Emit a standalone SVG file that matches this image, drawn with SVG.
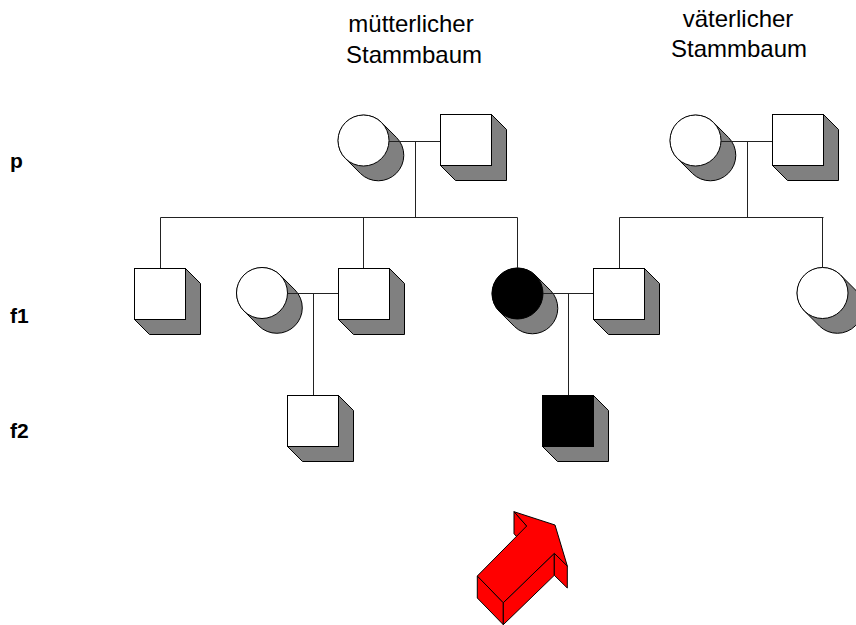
<svg xmlns="http://www.w3.org/2000/svg" width="856" height="625" viewBox="0 0 856 625">
  <style>
    .title { font-family: "Liberation Sans", Arial, sans-serif; font-size: 24px; fill: #000; text-anchor: middle; }
    .gen { font-family: "Liberation Sans", Arial, sans-serif; font-size: 21px; font-weight: bold; fill: #000; }
    .edge { stroke: #222; stroke-width: 1; fill: none; }
    .shade { fill: #808080; stroke: #000; stroke-width: 1; }
    .face { stroke: #000; stroke-width: 1; }
    .arrow path { fill: #ff0000; stroke: #000; stroke-width: 1; stroke-linejoin: round; }
  </style>
  <defs>
    <!-- female: extruded disc, r = 25.5, depth 15 -->
    <g id="female">
      <path class="shade" d="M18.03,-18.03 L33.03,-3.03 A25.5,25.5 0 0 1 -3.03,33.03 L-18.03,18.03 A25.5,25.5 0 0 1 18.03,-18.03 Z"/>
      <circle class="face" cx="0" cy="0" r="25.5"/>
    </g>
    <!-- male: extruded square, side 51, depth 15 -->
    <g id="male">
      <path class="shade" d="M51.5,0.5 L66.5,15.5 L66.5,66.5 L15.5,66.5 L0.5,51.5 Z"/>
      <rect class="face" x="0.5" y="0.5" width="51" height="51"/>
    </g>
  </defs>

  <rect width="856" height="625" fill="#fff"/>

  <!-- headings -->
  <g id="heading-maternal">
    <text class="title" x="411" y="32">mütterlicher</text>
    <text class="title" x="414" y="63">Stammbaum</text>
  </g>
  <g id="heading-paternal">
    <text class="title" x="738" y="27">väterlicher</text>
    <text class="title" x="739" y="57">Stammbaum</text>
  </g>

  <!-- generation labels -->
  <g id="generation-labels">
    <text class="gen" x="10" y="168">p</text>
    <text class="gen" x="10" y="323">f1</text>
    <text class="gen" x="10" y="438">f2</text>
  </g>

  <!-- parental generation -->
  <g id="p-mother-maternal"><use href="#female" x="363.5" y="140.5" fill="#fff"/></g>
  <g id="p-father-maternal"><use href="#male" x="440" y="114" fill="#fff"/></g>
  <g id="p-mother-paternal"><use href="#female" x="695.5" y="140.5" fill="#fff"/></g>
  <g id="p-father-paternal"><use href="#male" x="772" y="114" fill="#fff"/></g>

  <!-- first filial generation -->
  <g id="f1-son-1"><use href="#male" x="134" y="268" fill="#fff"/></g>
  <g id="f1-wife"><use href="#female" x="262" y="293" fill="#fff"/></g>
  <g id="f1-son-2"><use href="#male" x="338" y="268" fill="#fff"/></g>
  <g id="f1-daughter-affected"><use href="#female" x="517.5" y="293.5" fill="#000"/></g>
  <g id="f1-son-paternal"><use href="#male" x="593" y="268" fill="#fff"/></g>
  <g id="f1-daughter-paternal"><use href="#female" x="822.5" y="293" fill="#fff"/></g>

  <!-- second filial generation -->
  <g id="f2-son"><use href="#male" x="287" y="395" fill="#fff"/></g>
  <g id="f2-son-affected"><use href="#male" x="542" y="395" fill="#000"/></g>

  <!-- connectors -->
  <g id="connectors">
    <!-- maternal family -->
    <path class="edge" d="M389,141.5 H440 M415.5,141.5 V217.5 M160.5,217.5 H517.5 M160.5,217.5 V268 M363.5,217.5 V268 M517.5,217.5 V268"/>
    <!-- paternal family -->
    <path class="edge" d="M721,141.5 H772 M747.5,141.5 V217.5 M619.5,217.5 H823.5 M619.5,217.5 V268 M822.5,217.5 V267.5"/>
    <!-- f1 couples and children -->
    <path class="edge" d="M287.5,293.5 H338 M313.5,293.5 V395"/>
    <path class="edge" d="M543,293.5 H593 M568.5,293.5 V395"/>
  </g>

  <!-- pointer arrow -->
  <g id="pointer" class="arrow">
    <path d="M514,511.7 L514,533.7 L526.7,548 L526.7,526 Z"/>
    <path d="M477.3,576 L503.3,602.7 L503.3,624.7 L477.3,598 Z"/>
    <path d="M503.3,602.7 L554.3,553.3 L554.3,575.3 L503.3,624.7 Z"/>
    <path d="M554.3,553.3 L567.3,566 L567.3,588 L554.3,575.3 Z"/>
    <path d="M477.3,576 L526.7,526 L514,511.7 L555,525 L567.3,566 L554.3,553.3 L503.3,602.7 Z"/>
  </g>
</svg>
